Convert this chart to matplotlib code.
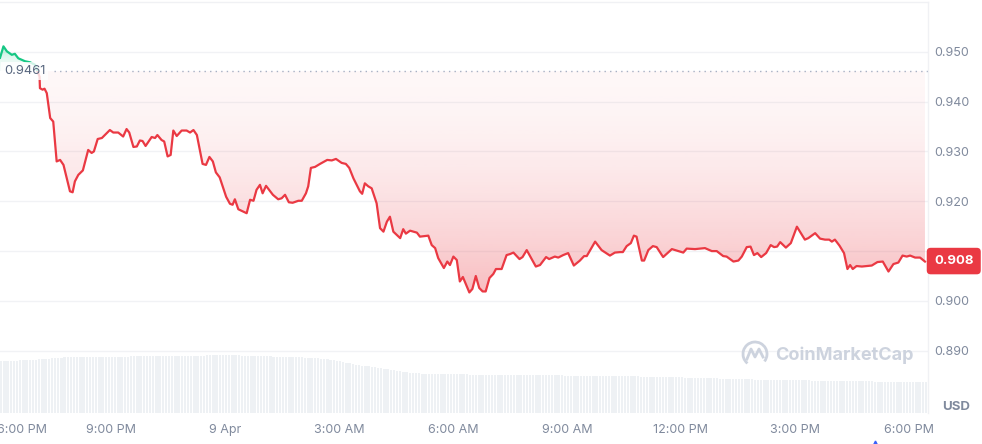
import numpy as np
import matplotlib
matplotlib.use("Agg")
import matplotlib.pyplot as plt
from matplotlib.path import Path
from matplotlib.patches import Arc, Rectangle

plt.rcParams['font.family'] = ['Inter', 'DejaVu Sans']

# hours after 6:00 PM, 8 Apr
hours = [0.08, 0.17, 0.26, 0.39, 0.47, 0.56, 0.74, 0.87, 1.00, 1.12, 1.13, 1.20, 1.25, 1.31,
         1.40, 1.48, 1.57, 1.66, 1.75, 1.92, 1.99, 2.05, 2.14, 2.26, 2.40, 2.49, 2.55, 2.65,
         2.76, 2.84, 2.97, 3.06, 3.19, 3.32, 3.41, 3.48, 3.59, 3.68, 3.76, 3.83, 3.91, 4.07,
         4.16, 4.22, 4.33, 4.40, 4.49, 4.57, 4.64, 4.73, 4.86, 4.99, 5.08, 5.17, 5.26, 5.41,
         5.50, 5.59, 5.68, 5.76, 5.86, 6.03, 6.13, 6.20, 6.26, 6.35, 6.57, 6.66, 6.75, 6.83,
         6.92, 6.99, 7.08, 7.26, 7.40, 7.49, 7.58, 7.68, 7.78, 7.93, 8.02, 8.13, 8.19, 8.26,
         8.37, 8.50, 8.69, 8.81, 8.92, 9.07, 9.18, 9.27, 9.38, 9.55, 9.61, 9.68, 9.77, 9.86,
         9.99, 10.08, 10.17, 10.26, 10.34, 10.43, 10.61, 10.69, 10.76, 10.87, 11.05, 11.13,
         11.35, 11.44, 11.53, 11.61, 11.76, 11.85, 11.92, 12.01, 12.10, 12.18, 12.26, 12.43,
         12.51, 12.60, 12.69, 12.78, 12.86, 12.96, 13.06, 13.13, 13.28, 13.41, 13.50, 13.59,
         13.75, 13.83, 13.94, 14.18, 14.29, 14.45, 14.53, 14.68, 14.77, 14.90, 15.03, 15.18,
         15.34, 15.45, 15.52, 15.74, 15.91, 16.13, 16.26, 16.40, 16.47, 16.57, 16.68, 16.76,
         16.83, 16.97, 17.03, 17.14, 17.26, 17.36, 17.53, 17.76, 17.89, 18.06, 18.15, 18.37,
         18.63, 18.81, 18.94, 19.11, 19.20, 19.38, 19.51, 19.60, 19.73, 19.83, 19.92, 20.01,
         20.11, 20.24, 20.36, 20.45, 20.53, 20.61, 20.76, 20.89, 21.05, 21.26, 21.35, 21.53,
         21.66, 21.79, 21.90, 21.97, 22.05, 22.17, 22.29, 22.38, 22.45, 22.52, 22.62, 22.76,
         23.02, 23.17, 23.31, 23.46, 23.59, 23.72, 23.83, 23.94, 24.03, 24.16, 24.29, 24.42]

prices = [0.9488, 0.9511, 0.9501, 0.9494, 0.9496, 0.9487, 0.9481, 0.9479, 0.9474, 0.9450,
          0.9427, 0.9424, 0.9426, 0.9417, 0.9367, 0.9360, 0.9280, 0.9283, 0.9273, 0.9220,
          0.9218, 0.9240, 0.9253, 0.9262, 0.9303, 0.9297, 0.9300, 0.9325, 0.9327, 0.9333,
          0.9343, 0.9338, 0.9338, 0.9330, 0.9345, 0.9338, 0.9309, 0.9310, 0.9322, 0.9321,
          0.9311, 0.9329, 0.9327, 0.9333, 0.9323, 0.9320, 0.9290, 0.9293, 0.9342, 0.9331,
          0.9342, 0.9342, 0.9338, 0.9343, 0.9333, 0.9275, 0.9273, 0.9289, 0.9280, 0.9258,
          0.9248, 0.9209, 0.9195, 0.9193, 0.9204, 0.9184, 0.9176, 0.9203, 0.9201, 0.9223,
          0.9233, 0.9216, 0.9231, 0.9213, 0.9204, 0.9206, 0.9213, 0.9198, 0.9197, 0.9201,
          0.9201, 0.9216, 0.9230, 0.9267, 0.9269, 0.9275, 0.9283, 0.9282, 0.9285, 0.9277,
          0.9275, 0.9267, 0.9246, 0.9220, 0.9215, 0.9236, 0.9230, 0.9226, 0.9196, 0.9146,
          0.9139, 0.9159, 0.9169, 0.9139, 0.9126, 0.9144, 0.9135, 0.9141, 0.9137, 0.9129,
          0.9131, 0.9112, 0.9106, 0.9086, 0.9066, 0.9079, 0.9072, 0.9089, 0.9082, 0.9039,
          0.9048, 0.9017, 0.9024, 0.9050, 0.9026, 0.9019, 0.9019, 0.9046, 0.9054, 0.9064,
          0.9064, 0.9092, 0.9094, 0.9097, 0.9084, 0.9088, 0.9102, 0.9069, 0.9072, 0.9088,
          0.9084, 0.9089, 0.9087, 0.9092, 0.9096, 0.9071, 0.9081, 0.9090, 0.9090, 0.9119,
          0.9102, 0.9091, 0.9097, 0.9098, 0.9098, 0.9110, 0.9116, 0.9131, 0.9129, 0.9081,
          0.9081, 0.9102, 0.9110, 0.9108, 0.9088, 0.9104, 0.9101, 0.9097, 0.9105, 0.9104,
          0.9106, 0.9100, 0.9100, 0.9090, 0.9089, 0.9079, 0.9081, 0.9089, 0.9108, 0.9109,
          0.9092, 0.9096, 0.9088, 0.9096, 0.9112, 0.9108, 0.9109, 0.9118, 0.9107, 0.9116,
          0.9149, 0.9123, 0.9126, 0.9136, 0.9125, 0.9123, 0.9123, 0.9119, 0.9123, 0.9111,
          0.9096, 0.9064, 0.9072, 0.9064, 0.9070, 0.9069, 0.9071, 0.9078, 0.9079, 0.9059,
          0.9074, 0.9077, 0.9091, 0.9089, 0.9091, 0.9087, 0.9087, 0.9079]

# 5-minute volume bars (thousand USD)
volume = [520, 521, 522, 523, 524, 525, 526, 527, 528, 530, 532, 534,
          536, 538, 540, 543, 546, 549, 552, 555, 556, 557, 557, 558,
          558, 559, 559, 560, 560, 561, 561, 562, 562, 563, 563, 563,
          564, 564, 564, 565, 565, 566, 566, 567, 567, 568, 568, 569,
          569, 570, 570, 570, 571, 571, 571, 572, 572, 572, 572, 572,
          573, 573, 574, 575, 575, 576, 576, 577, 577, 577, 577, 577,
          577, 577, 576, 576, 575, 574, 573, 572, 571, 570, 569, 568,
          567, 566, 565, 564, 563, 562, 561, 560, 559, 558, 557, 557,
          555, 552, 550, 548, 546, 544, 541, 537, 533, 528, 522, 516,
          509, 503, 497, 491, 485, 480, 475, 470, 466, 462, 457, 452,
          447, 442, 437, 432, 427, 422, 418, 413, 409, 405, 401, 398,
          396, 395, 394, 393, 392, 391, 390, 389, 389, 388, 388, 387,
          387, 386, 386, 386, 385, 385, 385, 384, 384, 384, 383, 383,
          383, 382, 382, 382, 381, 381, 381, 380, 380, 380, 379, 379,
          379, 378, 378, 378, 377, 377, 377, 376, 376, 376, 375, 375,
          374, 374, 374, 373, 373, 373, 372, 372, 372, 371, 371, 371,
          370, 370, 369, 369, 368, 368, 367, 367, 366, 366, 365, 365,
          364, 363, 362, 362, 361, 360, 360, 359, 358, 358, 357, 356,
          355, 354, 354, 353, 352, 351, 350, 349, 348, 347, 346, 345,
          344, 343, 342, 342, 341, 340, 339, 338, 337, 336, 335, 334,
          333, 333, 332, 332, 331, 331, 330, 330, 329, 329, 328, 328,
          327, 327, 326, 326, 325, 325, 324, 324, 323, 323, 322, 322,
          321, 321, 320, 320, 319, 319, 318, 318, 317, 317, 316, 316,
          315, 315, 314, 314, 313, 313, 312, 312, 311, 310, 310, 309,
          308, 308, 307, 307, 306]

base_price = 0.9461
last_price = 0.908
y_ticks = [0.890, 0.900, 0.910, 0.920, 0.930, 0.940, 0.950]
x_ticks = [3, 6, 9, 12, 15, 18, 21, 24]
x_labels = ["9:00 PM", "9 Apr", "3:00 AM", "6:00 AM", "9:00 AM", "12:00 PM", "3:00 PM", "6:00 PM"]

RED = '#EA3943'
GREEN = '#16C784'
GRAY = '#808A9D'

h = np.array(hours)
p = np.array(prices)
xmin, xmax = 0.079, 24.5
ymin, ymax = 0.8775, 0.9600

fig = plt.figure(figsize=(9.82, 4.44), dpi=100)
rect = [0.0, 1 - 413 / 444, 928 / 982, 411 / 444]

# volume underneath
axv = fig.add_axes(rect)
vt = 0.08 + np.arange(len(volume)) * (5 / 60)
axv.bar(vt, volume, width=0.75 * 5 / 60, color='#EEF1F4', linewidth=0, align='edge')
axv.set_xlim(xmin, xmax)
axv.set_ylim(0, 4110)
axv.axis('off')

ax = fig.add_axes(rect)
ax.set_facecolor('none')

for t in y_ticks:
    ax.axhline(t, color='#F1F2F5', lw=1, zorder=0)

# gradient fills
fb_r = ax.fill_between(h, p, base_price, where=p <= base_price, interpolate=True,
                       facecolor='none', edgecolor='none')
fb_g = ax.fill_between(h, p, base_price, where=p >= base_price, interpolate=True,
                       facecolor='none', edgecolor='none')

n = 256
tr = np.linspace(0, 1, n)
grad_r = np.zeros((n, 1, 4))
grad_r[:, 0, :3] = matplotlib.colors.to_rgb(RED)
grad_r[:, 0, 3] = 0.04 + 0.31 * (1 - tr) ** 1.7
im_r = ax.imshow(grad_r, extent=[xmin, xmax, 0.900, base_price], origin='lower',
                 aspect='auto', zorder=1, interpolation='bilinear')
im_r.set_clip_path(Path.make_compound_path(*fb_r.get_paths()), transform=ax.transData)

grad_g = np.zeros((n, 1, 4))
grad_g[:, 0, :3] = matplotlib.colors.to_rgb(GREEN)
grad_g[:, 0, 3] = 0.04 + 0.30 * tr ** 1.7
im_g = ax.imshow(grad_g, extent=[xmin, xmax, base_price, 0.9515], origin='lower',
                 aspect='auto', zorder=1, interpolation='bilinear')
im_g.set_clip_path(Path.make_compound_path(*fb_g.get_paths()), transform=ax.transData)

# price line, coloured by side of the open price
lr, = ax.plot(h, p, color=RED, lw=1.6, solid_joinstyle='round', zorder=3)
lg, = ax.plot(h, p, color=GREEN, lw=1.6, solid_joinstyle='round', zorder=3)
clip_r = Rectangle((xmin, ymin), xmax - xmin, base_price - ymin, transform=ax.transData)
clip_g = Rectangle((xmin, base_price), xmax - xmin, ymax - base_price, transform=ax.transData)
lr.set_clip_path(clip_r)
lg.set_clip_path(clip_g)

# open-price reference
ax.hlines(base_price, 1.5, xmax, colors='#A6B0C3', lw=1, linestyles=(0, (1, 3)), zorder=2)
ax.text(0.18, base_price, "0.9461", color='#58667E', fontsize=9.3, va='center', ha='left',
        zorder=4, bbox=dict(boxstyle='square,pad=0.25', fc='white', ec='none', alpha=0.8))

ax.set_xlim(xmin, xmax)
ax.set_ylim(ymin, ymax)

ax.yaxis.tick_right()
ax.set_yticks(y_ticks, ["0.890", "0.900", "", "0.920", "0.930", "0.940", "0.950"])
ax.set_xticks(x_ticks, x_labels)
ax.tick_params(axis='both', length=0, labelsize=9, labelcolor=GRAY)
ax.tick_params(axis='y', pad=4.5)
ax.tick_params(axis='x', pad=8)
for lab in ax.get_yticklabels():
    lab.set_horizontalalignment('left')

# first label, clamped at the left edge like the reference
ax.text(0.66, -8 / 72 * 100 / 411, "6:00 PM", transform=ax.get_xaxis_transform(),
        ha='center', va='top', fontsize=9, color=GRAY, clip_on=False)

for side in ['left', 'bottom']:
    ax.spines[side].set_visible(False)
for side in ['top', 'right']:
    ax.spines[side].set_color('#F0F1F4')
    ax.spines[side].set_linewidth(1)

# last price badge
ax.text(1.0 + 6 / 928, last_price, "0.908", transform=ax.get_yaxis_transform(),
        color='white', fontsize=9.5, fontweight='bold', va='center', ha='left', zorder=6,
        clip_on=False,
        bbox=dict(boxstyle='round,pad=0.55,rounding_size=0.3', fc=RED, ec='none'))

fig.text(956 / 982, 1 - 407 / 444, "USD", color=GRAY, fontsize=9.5, fontweight='bold',
         ha='center', va='center')

# watermark
fig.text(844 / 982, 1 - 355 / 444, "CoinMarketCap", color='#CDD3DE', fontsize=13,
         fontweight='bold', ha='center', va='center')
arc = Arc((755 / 982, 1 - 354 / 444), 24 / 982, 24 / 444, theta1=-60, theta2=250,
          transform=fig.transFigure, color='#CDD3DE', lw=2)
fig.add_artist(arc)
fig.add_artist(plt.Line2D(np.array([747, 751, 755, 759, 763]) / 982,
                          1 - np.array([359, 349, 357, 349, 357]) / 444,
                          transform=fig.transFigure, color='#CDD3DE', lw=2))

fig.add_artist(plt.Line2D([875 / 982], [1 - 443 / 444], marker='^', markersize=3.5,
                          color='#3861FB', transform=fig.transFigure))

fig.savefig('out.png', dpi=100)
